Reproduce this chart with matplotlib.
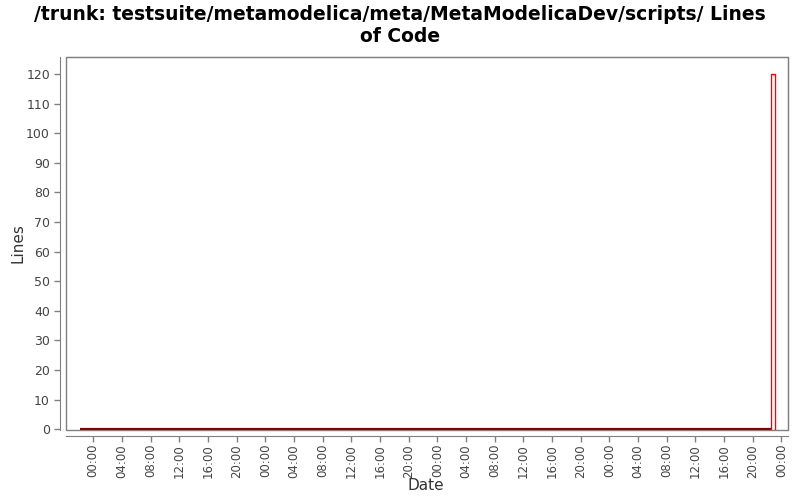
import matplotlib
matplotlib.use("Agg")
import matplotlib.pyplot as plt
import matplotlib.dates as mdates
import pandas as pd
from matplotlib.patches import Rectangle

title = "/trunk: testsuite/metamodelica/meta/MetaModelicaDev/scripts/ Lines\nof Code"
times = pd.to_datetime(["2008-06-01 22:10", "2008-06-05 22:35", "2008-06-05 22:35",
                        "2008-06-05 23:05", "2008-06-05 23:05"])
lines = [0, 0, 120, 120, 0]
yticks = list(range(0, 121, 10))

fig = plt.figure(figsize=(8, 5), dpi=100)
ax = fig.add_axes([66/800, 1-430/500, (788-66)/800, (430-57)/500])

ax.plot(times[:2], lines[:2], color="#8b0000", lw=1.6, solid_capstyle="butt")
ax.plot(times[1:], lines[1:], color="red", lw=1.0)

x0 = pd.Timestamp("2008-06-01 20:12")
x1 = pd.Timestamp("2008-06-06 00:55")
ax.set_xlim(x0, x1)
ax.set_ylim(-0.3, 125.8)
ax.set_yticks(yticks)

ax.xaxis.set_major_locator(mdates.HourLocator(byhour=range(0, 24, 4)))
ax.xaxis.set_major_formatter(mdates.DateFormatter("%H:%M"))
ax.tick_params(axis="x", labelrotation=90, labelsize=8.5, pad=2)

gray = "#808080"
for s in ["left", "bottom"]:
    ax.spines[s].set_position(("outward", 4))
    ax.spines[s].set_color(gray)
for s in ["top", "right"]:
    ax.spines[s].set_color(gray)
ax.add_patch(Rectangle((0, 0), 1, 1, transform=ax.transAxes, fill=False,
                       edgecolor=gray, lw=1, clip_on=False, zorder=0))

ax.tick_params(axis="both", colors=gray, labelcolor="#444444", length=4, width=1)
ax.tick_params(axis="y", labelsize=9)
ax.set_ylabel("Lines", fontsize=11, color="#333333")
ax.set_xlabel("Date", fontsize=11, color="#333333")
ax.yaxis.set_label_coords(-0.056, 0.5)
ax.xaxis.set_label_coords(0.4986, -0.13)
fig.suptitle(title, fontsize=13.5, fontweight="bold", y=0.99, linespacing=1.2)

fig.savefig("out.png", dpi=100)
